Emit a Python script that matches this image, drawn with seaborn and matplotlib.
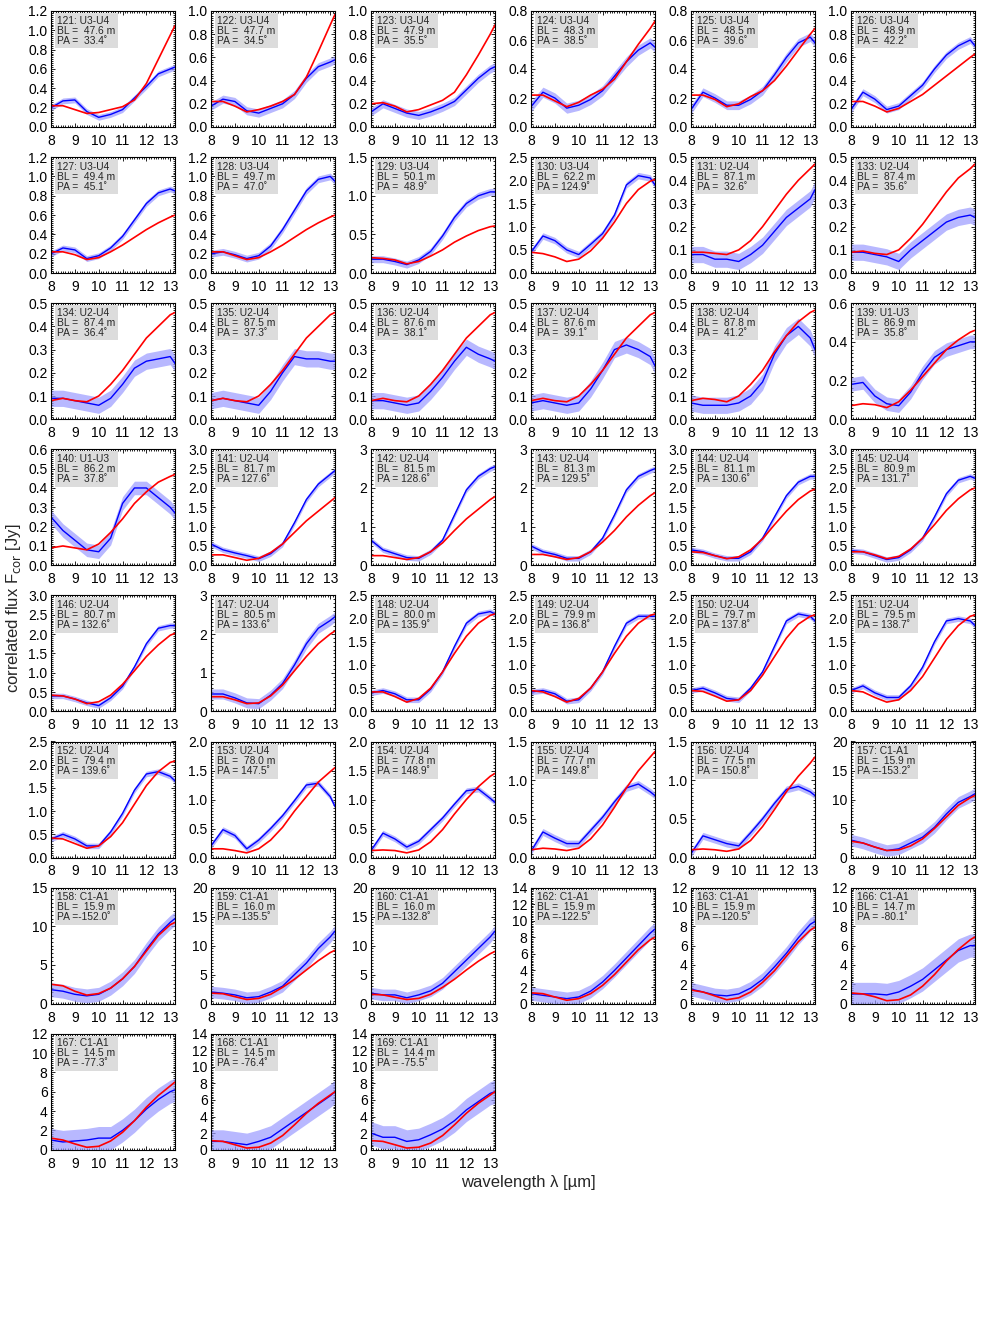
import numpy as np
import matplotlib
matplotlib.use("Agg")
import matplotlib.pyplot as plt
from matplotlib.ticker import MultipleLocator
import seaborn as sns

# wavelength grid (micron) the spectra were read at
wavelength = [8.0, 8.5, 9.0, 9.5, 10.0, 10.5, 11.0, 11.5, 12.0, 12.5, 13.0, 13.2]

panel_ids = [121, 122, 123, 124, 125, 126,
             127, 128, 129, 130, 131, 133,
             134, 135, 136, 137, 138, 139,
             140, 141, 142, 143, 144, 145,
             146, 147, 148, 149, 150, 151,
             152, 153, 154, 155, 156, 157,
             158, 159, 160, 162, 163, 166,
             167, 168, 169]
baselines = ["U3-U4"] * 10 + ["U2-U4"] * 7 + ["U1-U3", "U1-U3"] + ["U2-U4"] * 16 \
    + ["C1-A1"] * 10
bl_length = [47.6, 47.7, 47.9, 48.3, 48.5, 48.9,
             49.4, 49.7, 50.1, 62.2, 87.1, 87.4,
             87.4, 87.5, 87.6, 87.6, 87.8, 86.9,
             86.2, 81.7, 81.5, 81.3, 81.1, 80.9,
             80.7, 80.5, 80.0, 79.9, 79.7, 79.5,
             79.4, 78.0, 77.8, 77.7, 77.5, 15.9,
             15.9, 16.0, 16.0, 15.9, 15.9, 14.7,
             14.5, 14.5, 14.4]
pos_angle = [33.4, 34.5, 35.5, 38.5, 39.6, 42.2,
             45.1, 47.0, 48.9, 124.9, 32.6, 35.6,
             36.4, 37.3, 38.1, 39.1, 41.2, 35.8,
             37.8, 127.6, 128.6, 129.5, 130.6, 131.7,
             132.6, 133.6, 135.9, 136.8, 137.8, 138.7,
             139.6, 147.5, 148.9, 149.8, 150.8, -153.2,
             -152.0, -135.5, -132.8, -122.5, -120.5, -80.1,
             -77.3, -76.4, -75.5]

# y axis top and major tick step for every panel
y_max = [1.2, 1.0, 1.0, 0.8, 0.8, 1.0,
         1.2, 1.2, 1.5, 2.5, 0.5, 0.5,
         0.5, 0.5, 0.5, 0.5, 0.5, 0.6,
         0.6, 3.0, 3, 3, 3.0, 3.0,
         3.0, 3, 2.5, 2.5, 2.5, 2.5,
         2.5, 2.0, 2.0, 1.5, 1.5, 20,
         15, 20, 20, 14, 12, 12,
         12, 14, 14]
y_step = [0.2, 0.2, 0.2, 0.2, 0.2, 0.2,
          0.2, 0.2, 0.5, 0.5, 0.1, 0.1,
          0.1, 0.1, 0.1, 0.1, 0.1, 0.2,
          0.1, 0.5, 1, 1, 0.5, 0.5,
          0.5, 1, 0.5, 0.5, 0.5, 0.5,
          0.5, 0.5, 0.5, 0.5, 0.5, 5,
          5, 5, 5, 2, 2, 2,
          2, 2, 2]

# half width of the observational error band
obs_error = [0.03, 0.035, 0.035, 0.035, 0.03, 0.03,
             0.03, 0.035, 0.045, 0.07, 0.035, 0.035,
             0.035, 0.035, 0.035, 0.035, 0.035, 0.035,
             0.035, 0.07, 0.07, 0.07, 0.07, 0.07,
             0.07, 0.13, 0.06, 0.06, 0.06, 0.06,
             0.06, 0.05, 0.05, 0.045, 0.045, 1.0,
             0.9, 1.0, 1.0, 0.8, 0.7, 1.2,
             1.2, 1.4, 1.4]

flux_obs = [
    [0.20, 0.27, 0.28, 0.16, 0.10, 0.13, 0.18, 0.30, 0.42, 0.55, 0.60, 0.62],
    [0.18, 0.24, 0.22, 0.14, 0.12, 0.16, 0.20, 0.28, 0.42, 0.52, 0.56, 0.58],
    [0.13, 0.20, 0.16, 0.12, 0.10, 0.13, 0.17, 0.22, 0.32, 0.42, 0.50, 0.52],
    [0.14, 0.24, 0.20, 0.13, 0.15, 0.19, 0.25, 0.35, 0.45, 0.53, 0.58, 0.55],
    [0.12, 0.24, 0.20, 0.15, 0.15, 0.19, 0.25, 0.36, 0.48, 0.58, 0.62, 0.58],
    [0.15, 0.30, 0.24, 0.15, 0.18, 0.27, 0.36, 0.50, 0.62, 0.70, 0.75, 0.70],
    [0.20, 0.26, 0.24, 0.15, 0.18, 0.26, 0.38, 0.55, 0.72, 0.83, 0.87, 0.85],
    [0.20, 0.22, 0.19, 0.15, 0.18, 0.28, 0.45, 0.65, 0.85, 0.97, 1.00, 0.95],
    [0.18, 0.18, 0.15, 0.11, 0.17, 0.28, 0.48, 0.72, 0.90, 1.00, 1.05, 1.05],
    [0.45, 0.80, 0.70, 0.50, 0.40, 0.62, 0.85, 1.25, 1.90, 2.10, 2.05, 1.90],
    [0.08, 0.08, 0.06, 0.06, 0.05, 0.08, 0.12, 0.18, 0.24, 0.28, 0.32, 0.36],
    [0.09, 0.09, 0.08, 0.07, 0.05, 0.10, 0.14, 0.18, 0.22, 0.24, 0.25, 0.24],
    [0.09, 0.09, 0.08, 0.07, 0.06, 0.09, 0.15, 0.22, 0.25, 0.26, 0.27, 0.24],
    [0.08, 0.09, 0.08, 0.07, 0.06, 0.12, 0.20, 0.27, 0.26, 0.26, 0.25, 0.25],
    [0.08, 0.08, 0.07, 0.06, 0.07, 0.12, 0.18, 0.25, 0.31, 0.28, 0.26, 0.25],
    [0.07, 0.08, 0.07, 0.06, 0.07, 0.13, 0.21, 0.30, 0.32, 0.30, 0.27, 0.23],
    [0.07, 0.06, 0.06, 0.06, 0.07, 0.10, 0.16, 0.28, 0.36, 0.40, 0.35, 0.30],
    [0.18, 0.19, 0.12, 0.08, 0.07, 0.14, 0.24, 0.32, 0.36, 0.38, 0.40, 0.40],
    [0.25, 0.18, 0.13, 0.08, 0.07, 0.14, 0.32, 0.40, 0.40, 0.35, 0.30, 0.27],
    [0.55, 0.40, 0.32, 0.25, 0.17, 0.30, 0.55, 1.10, 1.70, 2.10, 2.35, 2.45],
    [0.65, 0.40, 0.30, 0.20, 0.18, 0.35, 0.65, 1.30, 1.95, 2.30, 2.50, 2.55],
    [0.50, 0.35, 0.28, 0.18, 0.18, 0.35, 0.70, 1.30, 1.95, 2.30, 2.45, 2.50],
    [0.40, 0.35, 0.25, 0.18, 0.18, 0.35, 0.70, 1.25, 1.80, 2.15, 2.30, 2.30],
    [0.38, 0.35, 0.25, 0.15, 0.20, 0.40, 0.70, 1.25, 1.85, 2.20, 2.30, 2.25],
    [0.40, 0.40, 0.32, 0.22, 0.15, 0.35, 0.65, 1.15, 1.75, 2.15, 2.22, 2.22],
    [0.45, 0.45, 0.35, 0.22, 0.20, 0.42, 0.72, 1.20, 1.75, 2.15, 2.35, 2.45],
    [0.40, 0.45, 0.38, 0.25, 0.25, 0.48, 0.85, 1.40, 1.90, 2.10, 2.15, 2.10],
    [0.42, 0.45, 0.38, 0.22, 0.25, 0.50, 0.85, 1.40, 1.90, 2.05, 2.05, 2.05],
    [0.45, 0.50, 0.40, 0.28, 0.25, 0.50, 0.85, 1.40, 1.95, 2.10, 2.05, 1.95],
    [0.45, 0.55, 0.40, 0.30, 0.30, 0.55, 0.95, 1.50, 1.95, 2.00, 1.95, 1.85],
    [0.40, 0.50, 0.40, 0.25, 0.25, 0.55, 0.95, 1.45, 1.80, 1.85, 1.75, 1.65],
    [0.20, 0.48, 0.38, 0.15, 0.30, 0.50, 0.72, 0.98, 1.25, 1.28, 1.05, 0.88],
    [0.12, 0.42, 0.32, 0.18, 0.28, 0.48, 0.68, 0.92, 1.15, 1.18, 1.02, 0.95],
    [0.08, 0.33, 0.25, 0.18, 0.18, 0.35, 0.52, 0.72, 0.90, 0.95, 0.85, 0.80],
    [0.05, 0.28, 0.23, 0.18, 0.15, 0.32, 0.50, 0.70, 0.88, 0.92, 0.85, 0.80],
    [3.0, 2.5, 1.8, 1.2, 1.5, 2.5, 3.5, 5.2, 7.5, 9.5, 10.5, 11.0],
    [1.8, 1.6, 1.2, 1.0, 1.2, 2.0, 3.2, 4.8, 7.0, 9.0, 10.5, 11.0],
    [2.0, 1.8, 1.5, 1.0, 1.2, 2.0, 3.0, 5.0, 7.0, 9.5, 11.5, 12.5],
    [1.8, 1.5, 1.5, 1.0, 1.5, 2.2, 3.5, 5.5, 7.5, 9.5, 11.5, 12.5],
    [1.2, 1.0, 0.8, 0.6, 0.8, 1.5, 2.6, 4.0, 5.5, 7.0, 8.5, 9.0],
    [1.5, 1.2, 0.9, 0.8, 1.0, 1.6, 2.5, 3.8, 5.2, 6.8, 8.2, 8.5],
    [1.0, 1.0, 1.0, 0.9, 1.2, 1.8, 2.5, 3.5, 4.5, 5.5, 6.0, 6.0],
    [1.0, 0.8, 0.9, 1.0, 1.2, 1.2, 2.0, 3.0, 4.2, 5.2, 6.0, 6.2],
    [1.0, 1.0, 0.8, 0.6, 1.0, 1.5, 2.5, 3.5, 4.5, 5.5, 6.5, 7.0],
    [2.0, 1.5, 1.5, 1.0, 1.2, 1.8, 2.5, 3.5, 4.8, 5.8, 6.8, 7.0],
]

flux_model = [
    [0.22, 0.22, 0.18, 0.14, 0.15, 0.18, 0.21, 0.28, 0.45, 0.70, 0.95, 1.05],
    [0.22, 0.22, 0.18, 0.13, 0.15, 0.18, 0.22, 0.28, 0.43, 0.65, 0.88, 0.97],
    [0.20, 0.21, 0.18, 0.13, 0.15, 0.19, 0.23, 0.30, 0.45, 0.62, 0.80, 0.88],
    [0.22, 0.22, 0.18, 0.14, 0.17, 0.22, 0.26, 0.33, 0.45, 0.57, 0.68, 0.73],
    [0.22, 0.22, 0.19, 0.14, 0.16, 0.21, 0.25, 0.32, 0.42, 0.53, 0.64, 0.68],
    [0.22, 0.22, 0.18, 0.13, 0.16, 0.22, 0.28, 0.36, 0.44, 0.52, 0.60, 0.63],
    [0.22, 0.22, 0.19, 0.14, 0.16, 0.22, 0.29, 0.37, 0.45, 0.52, 0.58, 0.60],
    [0.22, 0.22, 0.18, 0.14, 0.16, 0.22, 0.29, 0.37, 0.45, 0.52, 0.58, 0.60],
    [0.20, 0.19, 0.17, 0.12, 0.15, 0.22, 0.30, 0.40, 0.48, 0.55, 0.60, 0.61],
    [0.45, 0.42, 0.35, 0.25, 0.30, 0.48, 0.75, 1.10, 1.50, 1.80, 1.98, 2.02],
    [0.09, 0.09, 0.085, 0.08, 0.10, 0.14, 0.20, 0.27, 0.34, 0.40, 0.45, 0.47],
    [0.09, 0.095, 0.085, 0.08, 0.10, 0.15, 0.21, 0.28, 0.35, 0.41, 0.45, 0.47],
    [0.08, 0.09, 0.08, 0.075, 0.10, 0.15, 0.21, 0.28, 0.35, 0.40, 0.45, 0.46],
    [0.08, 0.09, 0.08, 0.075, 0.10, 0.15, 0.21, 0.28, 0.35, 0.40, 0.45, 0.46],
    [0.08, 0.09, 0.08, 0.075, 0.10, 0.15, 0.21, 0.28, 0.35, 0.40, 0.45, 0.46],
    [0.08, 0.09, 0.08, 0.075, 0.10, 0.15, 0.21, 0.28, 0.35, 0.40, 0.45, 0.46],
    [0.08, 0.09, 0.085, 0.075, 0.10, 0.15, 0.21, 0.29, 0.36, 0.42, 0.46, 0.47],
    [0.07, 0.08, 0.075, 0.06, 0.09, 0.15, 0.22, 0.29, 0.36, 0.41, 0.45, 0.46],
    [0.09, 0.10, 0.09, 0.08, 0.11, 0.17, 0.24, 0.32, 0.38, 0.43, 0.46, 0.47],
    [0.27, 0.27, 0.20, 0.13, 0.18, 0.33, 0.55, 0.85, 1.15, 1.40, 1.65, 1.75],
    [0.25, 0.25, 0.20, 0.15, 0.20, 0.35, 0.58, 0.90, 1.20, 1.45, 1.70, 1.78],
    [0.28, 0.28, 0.22, 0.15, 0.20, 0.35, 0.60, 0.90, 1.25, 1.55, 1.80, 1.88],
    [0.35, 0.33, 0.25, 0.17, 0.22, 0.40, 0.68, 1.05, 1.40, 1.70, 1.92, 1.97],
    [0.35, 0.35, 0.27, 0.17, 0.23, 0.42, 0.70, 1.05, 1.42, 1.72, 1.95, 2.00],
    [0.42, 0.40, 0.32, 0.20, 0.25, 0.42, 0.70, 1.05, 1.42, 1.72, 1.97, 2.02],
    [0.38, 0.38, 0.30, 0.20, 0.22, 0.40, 0.68, 1.05, 1.42, 1.75, 2.00, 2.08],
    [0.42, 0.42, 0.32, 0.20, 0.28, 0.50, 0.85, 1.25, 1.62, 1.90, 2.07, 2.10],
    [0.45, 0.42, 0.32, 0.20, 0.28, 0.50, 0.85, 1.25, 1.62, 1.90, 2.07, 2.10],
    [0.45, 0.43, 0.33, 0.22, 0.25, 0.45, 0.78, 1.18, 1.58, 1.88, 2.05, 2.08],
    [0.45, 0.42, 0.30, 0.20, 0.25, 0.45, 0.75, 1.15, 1.55, 1.85, 2.05, 2.08],
    [0.42, 0.40, 0.30, 0.20, 0.25, 0.45, 0.75, 1.15, 1.55, 1.85, 2.05, 2.08],
    [0.15, 0.15, 0.12, 0.08, 0.15, 0.30, 0.52, 0.80, 1.05, 1.30, 1.48, 1.55],
    [0.12, 0.13, 0.12, 0.08, 0.13, 0.27, 0.48, 0.75, 1.00, 1.22, 1.40, 1.45],
    [0.10, 0.12, 0.11, 0.09, 0.12, 0.24, 0.42, 0.65, 0.90, 1.12, 1.30, 1.37],
    [0.10, 0.11, 0.10, 0.08, 0.11, 0.22, 0.40, 0.62, 0.85, 1.05, 1.22, 1.30],
    [2.8, 2.5, 1.8, 1.2, 1.3, 2.0, 3.2, 5.0, 7.0, 9.0, 10.3, 10.7],
    [2.5, 2.3, 1.6, 1.1, 1.3, 2.0, 3.2, 4.8, 6.8, 8.8, 10.2, 10.5],
    [1.8, 1.7, 1.2, 0.7, 0.9, 1.6, 2.8, 4.2, 5.8, 7.4, 8.8, 9.2],
    [1.6, 1.5, 1.1, 0.7, 0.9, 1.6, 2.8, 4.2, 5.8, 7.3, 8.6, 9.0],
    [1.3, 1.2, 0.8, 0.4, 0.6, 1.2, 2.2, 3.5, 5.0, 6.5, 7.7, 8.0],
    [1.4, 1.2, 0.8, 0.4, 0.6, 1.2, 2.2, 3.4, 4.9, 6.4, 7.6, 7.9],
    [1.1, 1.0, 0.7, 0.3, 0.4, 0.9, 1.8, 3.0, 4.4, 5.6, 6.6, 6.9],
    [1.2, 1.0, 0.6, 0.25, 0.35, 0.9, 1.8, 3.0, 4.4, 5.6, 6.6, 7.0],
    [1.1, 1.0, 0.6, 0.2, 0.3, 0.8, 1.7, 3.0, 4.4, 5.6, 6.6, 7.0],
    [1.1, 1.0, 0.6, 0.2, 0.3, 0.8, 1.7, 3.0, 4.4, 5.6, 6.6, 7.0],
]

sns.set_theme(style="ticks")
plt.rcParams['font.family'] = ['Liberation Sans', 'DejaVu Sans']

fig = plt.figure(figsize=(9.81, 13.44), dpi=100)
W, H = 981.0, 1344.0

for i, pid in enumerate(panel_ids):
    row, col = divmod(i, 6)
    left = (51 + 160 * col) / W
    bottom = 1 - (11 + 146.1 * row + 116) / H
    ax = fig.add_axes([left, bottom, 124 / W, 116 / H])

    obs = np.array(flux_obs[i])
    err = obs_error[i]
    ax.fill_between(wavelength, obs - err, obs + err, color='#9a9aff',
                    alpha=0.7, lw=0)
    sns.lineplot(x=wavelength, y=flux_obs[i], color='#0000ff', lw=1.0, ax=ax)
    sns.lineplot(x=wavelength, y=flux_model[i], color='#ff0000', lw=1.2, ax=ax)

    step = y_step[i]
    ax.set_xlim(8, 13.2)
    ax.set_ylim(0, y_max[i])
    ax.set_xticks([8, 9, 10, 11, 12, 13])
    yt = np.arange(0, y_max[i] + step / 2, step)
    ax.set_yticks(yt)
    if step >= 1:
        ax.set_yticklabels([f"{v:.0f}" for v in yt])
    else:
        ax.set_yticklabels([f"{v:.1f}" for v in yt])
    ax.xaxis.set_minor_locator(MultipleLocator(0.1))
    ax.yaxis.set_minor_locator(MultipleLocator(step / 10))
    ax.tick_params(which='both', direction='in', top=True, right=True,
                   labelsize=10, width=0.6, colors='black')
    ax.tick_params(which='major', length=3)
    ax.tick_params(axis='x', which='major', pad=5)
    ax.tick_params(axis='y', which='major', pad=2.5)
    ax.tick_params(which='minor', length=1.2)
    for sp in ax.spines.values():
        sp.set_linewidth(0.8)
        sp.set_color('black')
    ax.set_xlabel('')
    ax.set_ylabel('')

    label = (f"{pid}: {baselines[i]}\n"
             f"BL ={bl_length[i]:6.1f} m\n"
             f"PA ={pos_angle[i]:6.1f}\u02da")
    ax.text(0.05, 0.96, label, transform=ax.transAxes, fontsize=7.4,
            va='top', ha='left', linespacing=1.0,
            bbox=dict(boxstyle='square,pad=0.25', facecolor='#dcdcdc',
                      edgecolor='none'))

fig.text(14 / W, 1 - 608 / H, r"correlated flux F$_{\rm cor}$ [Jy]",
         rotation=90, ha='center', va='center', fontsize=12)
fig.text(528 / W, 1 - 1183 / H, "wavelength \u03bb [\u00b5m]",
         ha='center', va='center', fontsize=12)

fig.savefig("out.png", dpi=100)
